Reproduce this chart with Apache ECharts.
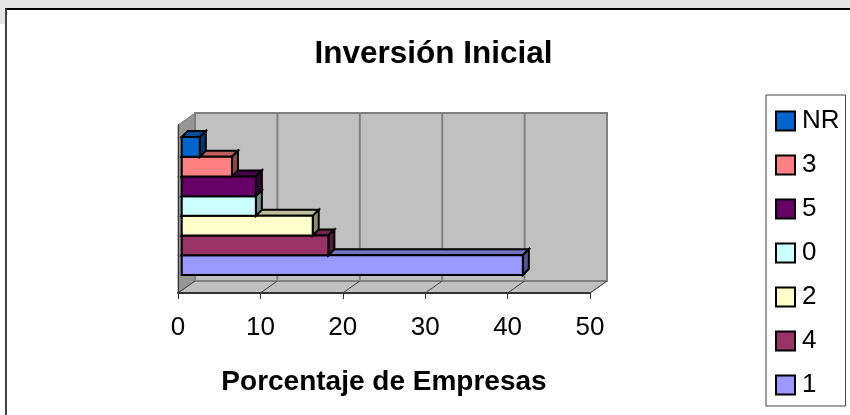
<!DOCTYPE html>
<html>
<head>
<meta charset="utf-8">
<script src="https://cdn.jsdelivr.net/npm/echarts@6/dist/echarts.min.js"></script>
<style>
  html, body { margin: 0; padding: 0; background: #fff; overflow: hidden; }
  #top { position: absolute; left: 0; top: 0; width: 850px; height: 8px; background: #e6e6e6; }
  #left { position: absolute; left: 0; top: 8px; width: 5px; height: 16px; background: #e6e6e6; }
  #box { position: absolute; left: 5px; top: 8px; width: 845px; height: 407px; box-sizing: border-box; border-top: 2px solid #000; border-left: 2px solid #444; }
  #main { position: absolute; left: 0; top: 0; width: 850px; height: 415px; }
</style>
</head>
<body>
<div id="top"></div>
<div id="left"></div>
<div id="box"></div>
<div id="main"></div>
<script>
// bottom to top, same order as the bars in the picture
const categories = ['1', '4', '2', '0', '5', '3', 'NR'];
const values = [41.4, 17.8, 15.9, 9.0, 9.0, 6.1, 2.2];
const colors = ['#9999ff', '#993366', '#ffffcc', '#ccffff', '#660066', '#ff8080', '#0066cc'];
const xTicks = [0, 10, 20, 30, 40, 50];

const wallDx = 17, wallDy = -12; // depth of the box
const barDx = 6, barDy = -6;     // depth of a bar
const font = '"Liberation Sans", Arial, sans-serif';

function shade(hex, k) {
  let n = parseInt(hex.slice(1), 16);
  let r = Math.round((n >> 16 & 255) * k);
  let g = Math.round((n >> 8 & 255) * k);
  let b = Math.round((n & 255) * k);
  return `rgb(${r},${g},${b})`;
}

function renderFrame(params, api) {
  let p0 = api.coord([0, 0]);
  let p1 = api.coord([50, 1]);
  let x0 = p0[0], x1 = p1[0], yb = p0[1], yt = p1[1];
  let wallStyle = { fill: '#c0c0c0', stroke: '#808080', lineWidth: 2 };
  let children = [
    // side wall
    { type: 'polygon', shape: { points: [[x0, yb], [x0 + wallDx, yb + wallDy], [x0 + wallDx, yt + wallDy], [x0, yt]] },
      style: { fill: '#969696', stroke: '#808080', lineWidth: 1 } },
    // floor
    { type: 'polygon', shape: { points: [[x0, yb], [x1, yb], [x1 + wallDx, yb + wallDy], [x0 + wallDx, yb + wallDy]] },
      style: { fill: '#c0c0c0', stroke: '#808080', lineWidth: 1 } },
    // back wall
    { type: 'rect', shape: { x: x0 + wallDx, y: yt + wallDy, width: x1 - x0, height: yb - yt }, style: wallStyle }
  ];
  xTicks.forEach(t => {
    let x = api.coord([t, 0])[0];
    children.push({ type: 'line', shape: { x1: x, y1: yb, x2: x + wallDx, y2: yb + wallDy }, style: { stroke: '#404040', lineWidth: 1 } });
    if (t > 0 && t < 50) {
      children.push({ type: 'line', shape: { x1: x + wallDx, y1: yb + wallDy, x2: x + wallDx, y2: yt + wallDy }, style: { stroke: '#808080', lineWidth: 2 } });
    }
  });
  return { type: 'group', children: children };
}

function renderBar(params, api) {
  let end = api.coord([api.value(0), api.value(1)]);
  let start = api.coord([0, api.value(1)]);
  let h = api.size([0, 1])[1];
  let x0 = start[0], x1 = end[0], y0 = end[1] - h / 2, y1 = end[1] + h / 2;
  let c = colors[params.seriesIndex - 1];
  let line = { stroke: '#000', lineWidth: 2, lineJoin: 'miter' };
  return {
    type: 'group',
    children: [
      { type: 'polygon', shape: { points: [[x0, y0], [x1, y0], [x1 + barDx, y0 + barDy], [x0 + barDx, y0 + barDy]] },
        style: Object.assign({ fill: shade(c, 0.75) }, line) },
      { type: 'polygon', shape: { points: [[x1, y0], [x1 + barDx, y0 + barDy], [x1 + barDx, y1 + barDy], [x1, y1]] },
        style: Object.assign({ fill: shade(c, 0.55) }, line) },
      { type: 'rect', shape: { x: x0, y: y0, width: x1 - x0, height: y1 - y0 },
        style: Object.assign({ fill: c }, line) }
    ]
  };
}

let series = [{
  type: 'custom',
  name: 'frame',
  xAxisIndex: 0,
  yAxisIndex: 0,
  silent: true,
  renderItem: renderFrame,
  data: [[0, 0]],
  z: 1
}];
categories.forEach((name, i) => {
  series.push({
    type: 'custom',
    name: name,
    xAxisIndex: 1,
    yAxisIndex: 1,
    renderItem: renderBar,
    encode: { x: 0, y: 1 },
    itemStyle: { color: colors[i] },
    data: [[values[i], i]],
    z: 2
  });
});

let option = {
  animation: false,
  title: {
    text: 'Inversión Inicial',
    left: 428.5,
    top: 33,
    textAlign: 'center',
    textStyle: { fontFamily: font, fontSize: 31.5, fontWeight: 'bold', color: '#000' }
  },
  legend: {
    orient: 'vertical',
    left: 766,
    top: 95,
    padding: [13, 6, 8, 9],
    borderColor: '#444',
    borderWidth: 1,
    itemWidth: 19,
    itemHeight: 19,
    itemGap: 18,
    selectedMode: false,
    textStyle: { fontFamily: font, fontSize: 26, color: '#000', padding: [0, 0, 0, 2] },
    data: categories.slice().reverse().map(name => ({
      name: name,
      icon: 'rect',
      itemStyle: { color: colors[categories.indexOf(name)], borderColor: '#000', borderWidth: 2 }
    }))
  },
  grid: [
    { left: 178, right: 260, top: 125, bottom: 122 },
    { left: 181.7, right: 256.3, top: 137, bottom: 140 }
  ],
  xAxis: [{
    gridIndex: 0,
    type: 'value',
    min: 0,
    max: 50,
    interval: 10,
    name: 'Porcentaje de Empresas',
    nameLocation: 'center',
    nameGap: 75,
    nameTextStyle: { fontFamily: font, fontSize: 28, fontWeight: 'bold', color: '#000' },
    axisLine: { show: true, onZero: false, lineStyle: { color: '#333', width: 2 } },
    axisTick: { show: true, length: 6, lineStyle: { color: '#333', width: 1 } },
    axisLabel: { fontFamily: font, fontSize: 26, color: '#000', margin: 22 },
    splitLine: { show: false },
    z: 3
  }, {
    gridIndex: 1,
    type: 'value',
    min: 0,
    max: 50,
    show: false
  }],
  yAxis: [{
    gridIndex: 0,
    type: 'value',
    min: 0,
    max: 1,
    axisLine: { show: true, onZero: false, lineStyle: { color: '#333', width: 1 } },
    axisTick: { show: false },
    axisLabel: { show: false },
    splitLine: { show: false },
    z: 3
  }, {
    gridIndex: 1,
    type: 'category',
    data: categories,
    axisLine: { show: false },
    axisTick: { show: true, length: 4, lineStyle: { color: '#000', width: 1 } },
    axisLabel: { show: false },
    splitLine: { show: false }
  }],
  series: series
};

let chart = echarts.init(document.getElementById('main'));
chart.setOption(option);
</script>
</body>
</html>
